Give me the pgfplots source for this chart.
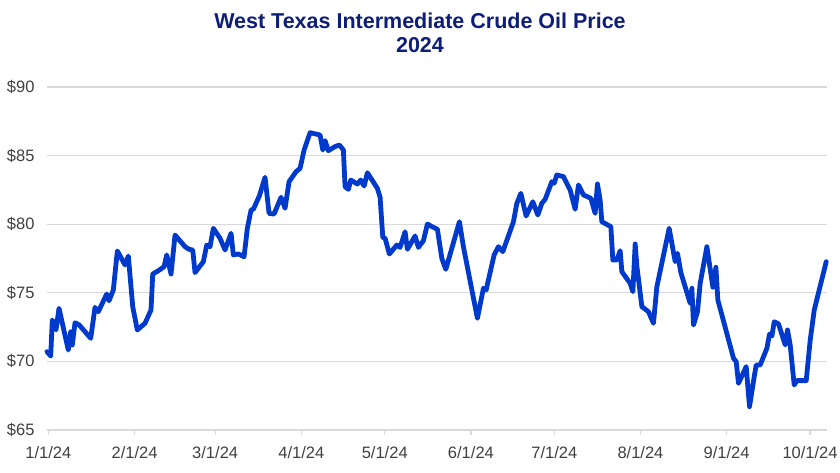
\documentclass[border=0pt]{standalone}
\usepackage{fontspec}
\setmainfont{Liberation Sans}
\usepackage{pgfplots}
\pgfplotsset{compat=1.18}
\definecolor{navy}{RGB}{14,30,120}
\definecolor{lineblue}{RGB}{0,58,204}
\definecolor{gridgray}{RGB}{217,217,217}
\definecolor{labgray}{RGB}{64,64,64}
\begin{document}
\begin{tikzpicture}
\useasboundingbox (-47pt,-42pt) rectangle (793pt,430pt);
\begin{axis}[
  at={(0,0)}, anchor=south west,
  scale only axis, width=780pt, height=343pt,
  xmin=0, xmax=280.6, ymin=65, ymax=90,
  clip=false,
  axis line style={draw=none},
  ymajorgrids, grid style={gridgray, line width=1.3pt},
  ytick={65,70,75,80,85,90},
  yticklabels={\$65,\$70,\$75,\$80,\$85,\$90},
  xtick={0.5,31.5,60.5,91.5,121.5,152.5,182.5,213.5,244.5,274.5},
  xticklabels={1/1/24,2/1/24,3/1/24,4/1/24,5/1/24,6/1/24,7/1/24,8/1/24,9/1/24,10/1/24},
  xtick pos=bottom, tick align=outside, major tick length=5pt,
  xtick style={gridgray, line width=1.2pt},
  ytick style={draw=none},
  /pgf/number format/assume math mode=true,
  ticklabel style={font=\fontsize{16.5}{18}\selectfont, text=labgray},
  yticklabel style={xshift=-4pt},
  xticklabel style={yshift=-8pt},
]
\addplot[lineblue, line width=4.8pt, line join=round, line cap=round] coordinates {
(0,70.71) (1.33,70.39) (1.91,73.02) (3.24,72.29) (4.32,73.87) (7.66,70.83) (8.53,72.16) (9.10,71.2)
(10.08,72.82) (11.62,72.65) (15.73,71.68) (17.27,73.94) (18.46,73.62) (21.48,74.91) (22.31,74.42)
(23.86,75.2) (25.30,78.05) (28.07,77.03) (29.26,77.68) (30.84,73.99) (32.49,72.29) (35.26,72.78)
(37.42,73.75) (38.04,76.37) (40.05,76.61) (42.10,76.9) (43.07,77.76) (44.62,76.37) (46.06,79.21)
(49.66,78.36) (51.10,78.17) (52.43,78.12) (53.26,76.47) (56.24,77.27) (57.47,78.48) (58.65,78.36)
(59.84,79.7) (62.25,78.97) (64.05,78.12) (66.21,79.34) (67.04,77.76) (68.84,77.83) (70.89,77.63)
(72.08,79.70) (73.41,81.04) (74.24,81.09) (76.39,82.06) (78.44,83.42) (79.88,80.79) (81.68,80.74)
(84.20,81.96) (85.64,81.16) (87.08,83.1) (89.60,83.83) (91.04,84.07) (92.48,85.4) (94.64,86.67)
(98.24,86.5) (99.21,85.41) (100.04,86.09) (101.22,85.36) (103.63,85.66) (105.18,85.77) (106.62,85.41)
(107.23,82.73) (108.42,82.54) (109.28,83.22) (111.66,82.93) (112.88,83.22) (114.07,82.78) (115.26,83.75)
(118.85,82.61) (119.83,81.96) (120.80,79.04) (121.63,78.97) (123.17,77.83) (125.84,78.48) (127.02,78.31)
(128.82,79.45) (129.65,78.17) (132.42,79.14) (133.61,78.31) (135.41,78.8) (136.85,80.01) (139.01,79.77)
(140.45,79.63) (142.03,77.51) (143.47,76.71) (148.36,80.18) (149.80,78.36) (154.84,73.14) (157.00,75.33)
(157.97,75.2) (160.85,77.76) (162.40,78.36) (163.98,78.0) (167.80,80.18) (169.02,81.52) (170.46,82.25)
(172.36,80.6) (174.77,81.64) (176.57,80.67) (178.01,81.52) (179.20,81.81) (181.61,83.1) (182.44,82.98)
(183.41,83.59) (185.79,83.47) (188.20,82.49) (190.00,81.09) (191.19,82.86) (192.98,82.13) (195.65,81.89)
(197.19,80.79) (198.02,82.93) (198.99,81.76) (199.60,80.18) (202.84,79.82) (203.56,77.39) (205.00,77.39)
(206.19,78.07) (206.80,76.54) (209.79,75.69) (210.76,75.08) (211.59,78.56) (212.20,76.95) (214.00,73.99)
(216.37,73.62) (218.17,72.78) (219.39,75.44) (223.82,79.7) (225.98,77.27) (226.81,77.88) (228.03,76.47)
(231.38,74.23) (231.99,75.33) (232.57,72.65) (234.01,73.62) (234.98,75.69) (237.39,78.36) (239.55,75.4)
(240.63,76.86) (241.34,74.47) (246.96,70.23) (247.93,69.98) (248.76,68.40) (251.53,69.62) (252.72,66.70)
(254.41,68.88) (255.13,69.74) (256.57,69.74) (258.98,70.96) (259.91,71.99) (260.78,71.85) (261.60,72.89)
(263.16,72.73) (265.57,71.2) (266.39,72.29) (267.36,71.2) (268.80,68.28) (269.77,68.6) (273.12,68.6)
(274.56,71.56) (276.01,73.75) (280.32,77.27)
};
\end{axis}
\node[anchor=base, font=\bfseries\fontsize{21.5}{24}\selectfont, text=navy] at (373pt,401pt) {West Texas Intermediate Crude Oil Price};
\node[anchor=base, font=\bfseries\fontsize{21.5}{24}\selectfont, text=navy] at (373pt,377pt) {2024};
\end{tikzpicture}
\end{document}
